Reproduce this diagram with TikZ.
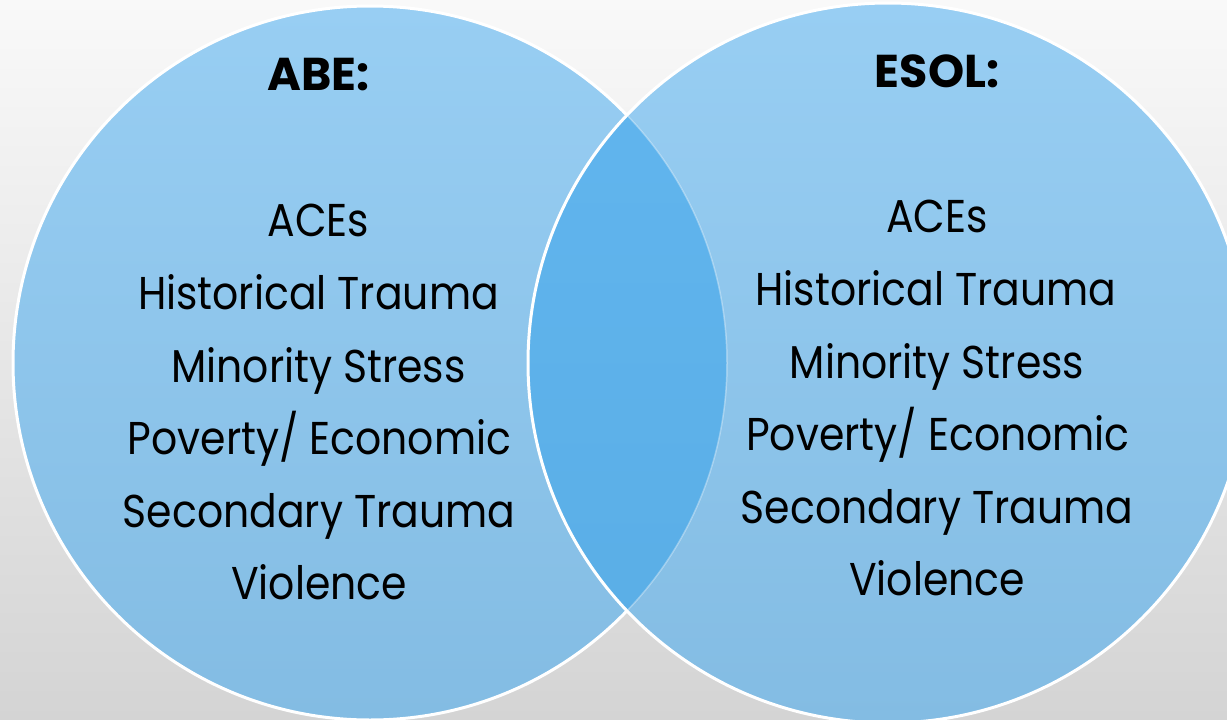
\documentclass[tikz,border=0pt]{standalone}
\usepackage{fontspec}
\setmainfont{Poppins}
\usepackage{graphicx}
\definecolor{bgtop}{HTML}{F9F9F9}
\definecolor{bgbot}{HTML}{D4D4D4}
\definecolor{ctop}{HTML}{98CEF3}
\definecolor{cbot}{HTML}{83BCE3}
\definecolor{otop}{HTML}{62B6EF}
\definecolor{obot}{HTML}{59ADE5}
\newcommand\tx[1]{\scalebox{0.89}[1]{#1}}
\tikzset{
  lbl/.style={inner sep=0pt, anchor=base, text=black, font=\fontsize{46}{50}\selectfont},
  ttl/.style={lbl, font=\fontsize{46}{50}\selectfont\bfseries},
  rim/.style={draw=white, line width=3pt}
}
\begin{document}
\begin{tikzpicture}[x=1pt,y=-1pt]
\useasboundingbox (0,0) rectangle (1227,720);
\shade[top color=bgtop, bottom color=bgbot] (0,0) rectangle (1227,720);
\coordinate (L) at (370,363);
\coordinate (R) at (888,363);
% left circle
\shade[top color=ctop, bottom color=cbot] (L) circle (357);
\draw[rim] (L) circle (357);
% right circle
\shade[top color=ctop, bottom color=cbot] (R) circle (360);
% overlap
\begin{scope}
  \clip (L) circle (357);
  \shade[top color=otop, bottom color=obot] (R) circle (360);
\end{scope}
\begin{scope}
  \clip (R) circle (360);
  \draw[white, opacity=0.35, line width=1.5pt] (L) circle (357);
\end{scope}
\draw[rim] (R) circle (360);
% left texts
\node[ttl] (abe) at (318.5,90) {ABE:};
\node[lbl] (l1) at (318.5,236) {\tx{ACEs}};
\node[lbl] (l2) at (318.5,309) {\tx{Historical Trauma}};
\node[lbl] (l3) at (318.5,382) {\tx{Minority Stress}};
\node[lbl] (l4) at (319.5,454) {\tx{Poverty/ Economic}};
\node[lbl] (l5) at (319,527) {\tx{Secondary Trauma}};
\node[lbl] (l6) at (319,599) {\tx{Violence}};
% right texts
\node[ttl] (esol) at (937,87) {ESOL:};
\node[lbl] (r1) at (937,232) {\tx{ACEs}};
\node[lbl] (r2) at (936,305) {\tx{Historical Trauma}};
\node[lbl] (r3) at (937,378) {\tx{Minority Stress}};
\node[lbl] (r4) at (938,450) {\tx{Poverty/ Economic}};
\node[lbl] (r5) at (937,523) {\tx{Secondary Trauma}};
\node[lbl] (r6) at (937,595) {\tx{Violence}};
\end{tikzpicture}
\end{document}
